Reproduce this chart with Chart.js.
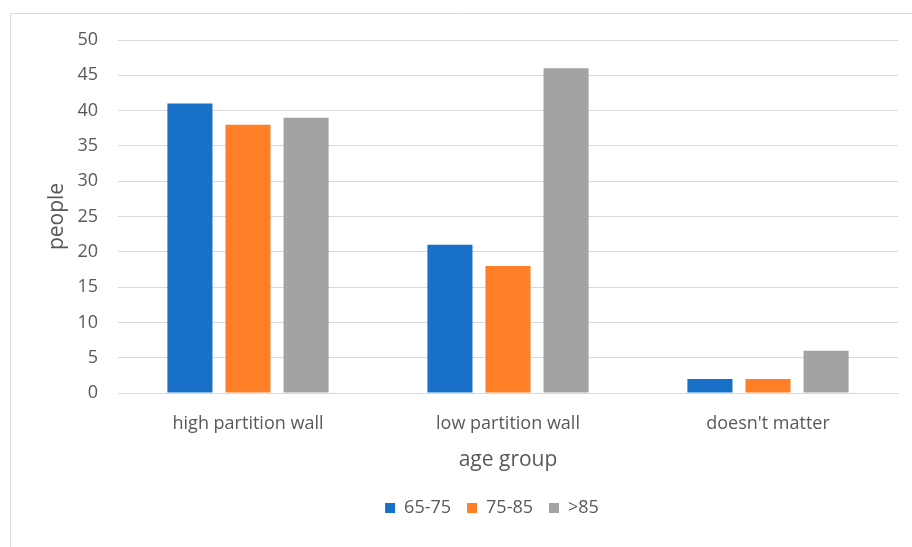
<!DOCTYPE html>
<html>
<head>
<meta charset="utf-8">
<script src="https://cdn.jsdelivr.net/npm/chart.js@4/dist/chart.umd.min.js"></script>
<style>
  html, body { margin: 0; padding: 0; background: #fff; }
  #wrap { width: 912px; height: 547px; position: relative; }
</style>
</head>
<body>
<div id="wrap"><canvas id="c" width="912" height="547"></canvas></div>
<script>
const categories = ['high partition wall', 'low partition wall', "doesn't matter"];
const seriesNames = ['65-75', '75-85', '>85'];
const age65to75 = [41, 21, 2];
const age75to85 = [38, 18, 2];
const age85plus = [39, 46, 6];
const seriesColors = ['#1870c8', '#fe7f27', '#a3a3a3'];

const FONT = '"Open Sans", Lato, sans-serif';
const TEXT = '#595959';
const GRID = '#d9d9d9';

// light frame around the chart (only the top and left edges fall inside the canvas)
const framePlugin = {
  id: 'frame',
  beforeDraw(chart) {
    const ctx = chart.ctx;
    ctx.save();
    ctx.strokeStyle = GRID;
    ctx.lineWidth = 1;
    ctx.beginPath();
    ctx.moveTo(10.5, 560);
    ctx.lineTo(10.5, 13.5);
    ctx.lineTo(920, 13.5);
    ctx.stroke();
    ctx.restore();
  }
};

// nudge the legend so it sits a little right of the canvas centre
const legendShift = {
  id: 'legendShift',
  afterLayout(chart) {
    const lg = chart.legend;
    if (lg) { lg.left += 23; lg.right += 23; }
  }
};

new Chart(document.getElementById('c'), {
  type: 'bar',
  data: {
    labels: categories,
    datasets: [age65to75, age75to85, age85plus].map((vals, i) => ({
      label: seriesNames[i],
      data: vals,
      backgroundColor: seriesColors[i],
      borderWidth: 0,
      categoryPercentage: 0.67,
      barPercentage: 0.776
    }))
  },
  options: {
    responsive: false,
    animation: false,
    layout: { padding: { left: 40, right: 14, top: 40, bottom: 20 } },
    plugins: {
      tooltip: { enabled: false },
      legend: {
        position: 'bottom',
        labels: {
          boxWidth: 10,
          boxHeight: 10,
          padding: 16,
          color: TEXT,
          font: { family: FONT, size: 18 }
        }
      }
    },
    scales: {
      x: {
        grid: { display: false, drawTicks: false },
        border: { display: true, color: GRID, width: 1 },
        ticks: { color: TEXT, font: { family: FONT, size: 18 }, padding: 20 },
        title: {
          display: true,
          text: 'age group',
          color: TEXT,
          font: { family: FONT, size: 21 },
          padding: { top: 0, bottom: 10 }
        },
        afterFit(scale) { scale.height = 90; }
      },
      y: {
        min: 0,
        max: 50,
        ticks: { stepSize: 5, color: TEXT, font: { family: FONT, size: 18 }, padding: 20 },
        grid: { color: GRID, drawTicks: false },
        border: { display: false },
        title: {
          display: true,
          text: 'people',
          color: TEXT,
          font: { family: FONT, size: 21 }
        },
        afterFit(scale) { scale.width = 78; }
      }
    }
  },
  plugins: [framePlugin, legendShift]
});
</script>
</body>
</html>
